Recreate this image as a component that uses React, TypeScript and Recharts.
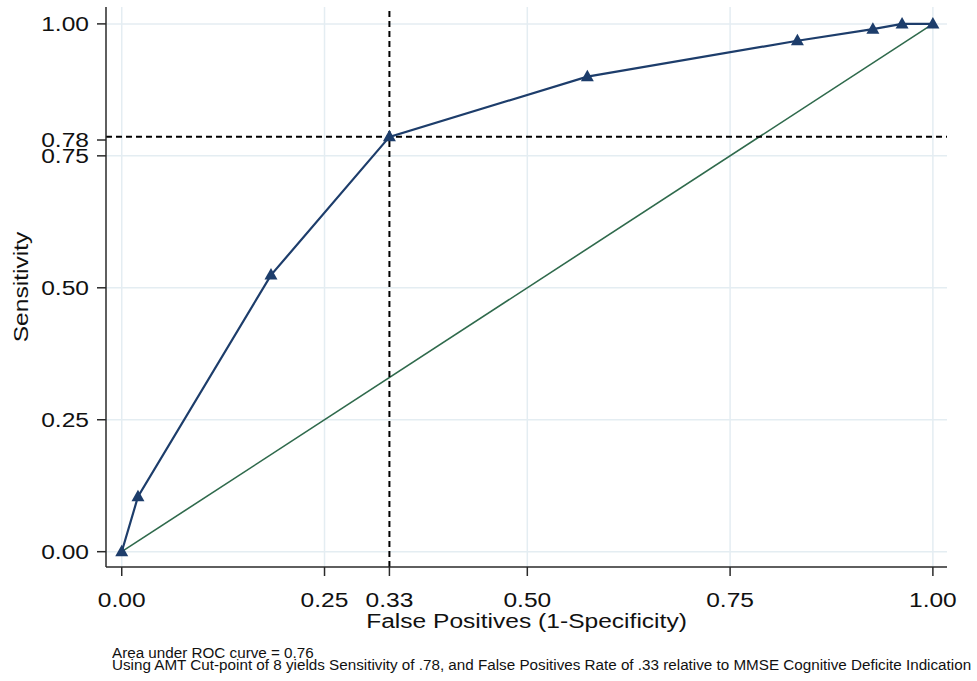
import React from "react";
import {
  LineChart,
  Line,
  XAxis,
  YAxis,
  CartesianGrid,
  ReferenceLine,
} from "recharts";

// ROC points
const falsePositives = [0, 0.02, 0.184, 0.33, 0.574, 0.833, 0.926, 0.962, 1];
const sensitivity = [0, 0.104, 0.524, 0.786, 0.9, 0.968, 0.99, 1, 1];

// reference (chance) diagonal
const diagX = [0, 1];
const diagY = [0, 1];

const xTicks = [0, 0.25, 0.33, 0.5, 0.75, 1];
const yTicks = [0, 0.25, 0.5, 0.75, 0.78, 1];
const gridValues = [0, 0.25, 0.5, 0.75, 1];

const cutPointX = 0.33;
const cutPointY = 0.786;

const xTitle = "False Positives (1-Specificity)";
const yTitle = "Sensitivity";
const notes = [
  "Area under ROC curve = 0.76",
  "Using AMT Cut-point of 8 yields Sensitivity of .78, and False Positives Rate of .33 relative to MMSE Cognitive Deficite Indication",
];

const NAVY = "#1d3d6b";
const GREEN = "#2f6a4c";
const AXIS = "#2a2a2a";
const GRID = "#e4edf2";
const FONT = "Arial, 'Liberation Sans', Helvetica, sans-serif";
const FS = 21;
const SX = 1.17; // the original text is drawn wider than plain Arial

const rocData = falsePositives.map((x, i) => ({ x, y: sensitivity[i] }));
const diagData = diagX.map((x, i) => ({ x, y: diagY[i] }));

const fmt = (v: number) => v.toFixed(2);

const Triangle = (props: any) => {
  const { cx, cy } = props;
  if (cx == null || cy == null) return null;
  return (
    <polygon
      points={`${cx},${cy - 7} ${cx - 6.5},${cy + 4.5} ${cx + 6.5},${cy + 4.5}`}
      fill={NAVY}
    />
  );
};

const XTick = (props: any) => {
  const { x, y, payload } = props;
  return (
    <text
      transform={`translate(${x},${y}) scale(${SX},1)`}
      dy="0.71em"
      textAnchor="middle"
      fontSize={FS}
      fontFamily={FONT}
      fill="#111"
    >
      {fmt(payload.value)}
    </text>
  );
};

const YTick = (props: any) => {
  const { x, y, payload } = props;
  return (
    <text
      transform={`translate(${x},${y}) scale(${SX},1)`}
      dy="0.355em"
      textAnchor="end"
      fontSize={FS}
      fontFamily={FONT}
      fill="#111"
    >
      {fmt(payload.value)}
    </text>
  );
};

const XTitle = (props: any) => {
  const vb = props.viewBox;
  if (!vb) return null;
  return (
    <text
      transform={`translate(${vb.x + vb.width / 2},${vb.y + 60.5}) scale(${SX},1)`}
      textAnchor="middle"
      fontSize={FS}
      fontFamily={FONT}
      fill="#111"
    >
      {xTitle}
    </text>
  );
};

const YTitle = (props: any) => {
  const vb = props.viewBox;
  if (!vb) return null;
  return (
    <text
      transform={`translate(${vb.x + 21},${vb.y + vb.height / 2}) rotate(-90) scale(${SX},1)`}
      dy="0.355em"
      textAnchor="middle"
      fontSize={FS}
      fontFamily={FONT}
      fill="#111"
    >
      {yTitle}
    </text>
  );
};

export default function App() {
  return (
    <div
      style={{
        position: "absolute",
        left: 0,
        top: 0,
        width: 977,
        height: 681,
        background: "#fff",
        fontFamily: FONT,
      }}
    >
      <LineChart
        width={977}
        height={681}
        data={rocData}
        margin={{ top: 7, right: 30, left: 0, bottom: 66 }}
      >
        <CartesianGrid
          stroke={GRID}
          strokeWidth={1.5}
          horizontalValues={gridValues}
          verticalValues={gridValues}
        />
        <XAxis
          type="number"
          dataKey="x"
          domain={[-0.0194, 1.0174]}
          allowDataOverflow
          ticks={xTicks}
          interval={0}
          tickSize={9}
          tickMargin={16}
          height={48}
          stroke={AXIS}
          strokeWidth={1.5}
          tick={<XTick />}
          label={<XTitle />}
        />
        <YAxis
          type="number"
          domain={[-0.029, 1.032]}
          allowDataOverflow
          ticks={yTicks}
          interval={0}
          tickSize={9}
          tickMargin={8}
          width={106}
          stroke={AXIS}
          strokeWidth={1.5}
          tick={<YTick />}
          label={<YTitle />}
        />
        <Line
          data={diagData}
          dataKey="y"
          stroke={GREEN}
          strokeWidth={1.6}
          dot={false}
          activeDot={false}
          isAnimationActive={false}
        />
        <ReferenceLine
          x={cutPointX}
          stroke="#000"
          strokeWidth={2}
          strokeDasharray="6 4"
        />
        <ReferenceLine
          y={cutPointY}
          stroke="#000"
          strokeWidth={2}
          strokeDasharray="6 4"
        />
        <Line
          dataKey="y"
          stroke={NAVY}
          strokeWidth={2.2}
          dot={(p: any) => <Triangle key={`tri-${p.index}`} {...p} />}
          activeDot={false}
          isAnimationActive={false}
        />
      </LineChart>
      <div
        style={{
          position: "absolute",
          left: 112,
          top: 647,
          fontSize: 14,
          lineHeight: "12.4px",
          color: "#111",
          whiteSpace: "nowrap",
          transform: "scaleX(1.087)",
          transformOrigin: "left top",
        }}
      >
        {notes.map((n) => (
          <div key={n}>{n}</div>
        ))}
      </div>
    </div>
  );
}
